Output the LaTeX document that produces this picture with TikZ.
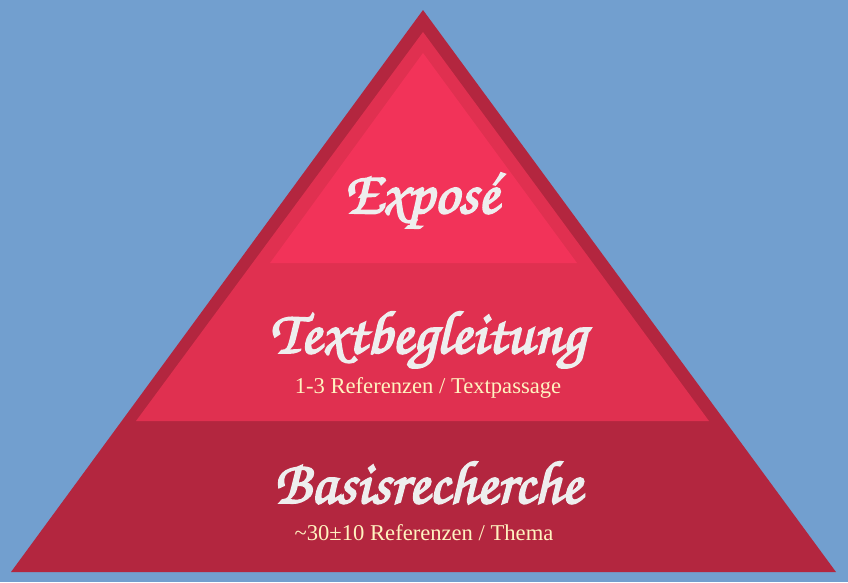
\documentclass[tikz,border=0pt]{standalone}
\usepackage{fontspec}
\setmainfont{Liberation Serif}
\newfontfamily\chorus[FakeBold=3]{TeX Gyre Chorus}
\definecolor{bgblue}{HTML}{729FCF}
\definecolor{darkred}{HTML}{B3263F}
\definecolor{midred}{HTML}{E03050}
\definecolor{topred}{HTML}{F23359}
\definecolor{titlecol}{HTML}{EEEEEE}
\definecolor{subcol}{HTML}{FFF3C0}
\tikzset{
  title/.style={anchor=base, text=titlecol, font=\chorus\fontsize{61}{61}\selectfont, inner sep=0pt},
  subtitle/.style={anchor=base, text=subcol, font=\fontsize{22.6}{22.6}\selectfont, inner sep=0pt},
}
\begin{document}
\begin{tikzpicture}[x=1pt,y=-1pt]
\fill[bgblue] (0,0) rectangle (848,582);
\useasboundingbox (0,0) rectangle (848,582);
% outer triangle
\fill[darkred] (423,10) -- (836,572) -- (11,572) -- cycle;
% middle triangle (apex 32, bottom 421)
\fill[midred] (423,32) -- (709,421) -- (136,421) -- cycle;
% top triangle
\fill[topred] (423,53) -- (577,263) -- (270,263) -- cycle;
\node[title] (t1) at (421,213) {Exposé};
\node[title] (t2) at (428,353) {Textbegleitung};
\node[subtitle] (s2) at (428,393) {1-3 Referenzen / Textpassage};
\node[title] (t3) at (428,503) {Basisrecherche};
\node[subtitle] (s3) at (424,540) {\char"007E 30±10 Referenzen / Thema};
\end{tikzpicture}
\end{document}
